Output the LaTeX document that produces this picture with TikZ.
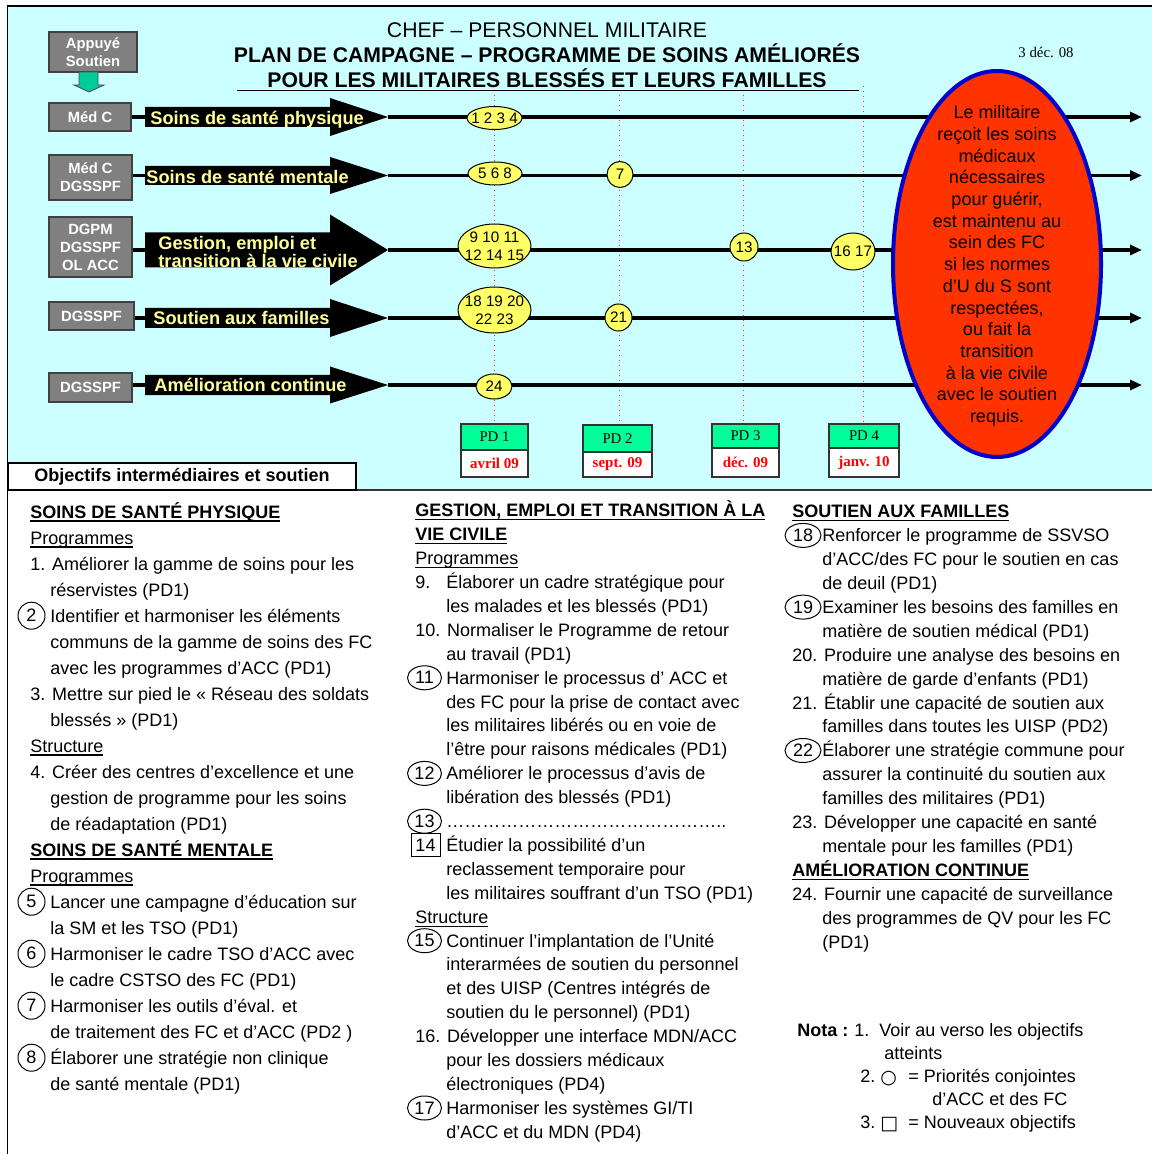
\documentclass[tikz,border=0pt]{standalone}
\usepackage{fontspec}
\setmainfont{Liberation Sans}
\newfontfamily\tms{Liberation Serif}
\newfontfamily\djv{DejaVu Sans}
\usetikzlibrary{shapes.geometric,arrows.meta}
\definecolor{bgcyan}{HTML}{CCFFFF}
\definecolor{boxgray}{HTML}{808080}
\definecolor{arrgreen}{HTML}{00CC99}
\definecolor{ellyel}{HTML}{FFFF66}
\definecolor{pdgreen}{HTML}{00FF99}
\definecolor{redfill}{HTML}{FF3300}
\definecolor{bluebd}{HTML}{0000CC}
\definecolor{labyel}{HTML}{FFFF99}
\definecolor{dotred}{HTML}{FF3300}
\newcommand\myul[1]{\setbox0\hbox{#1}\rlap{\vrule height -1.2pt depth 1.8pt width \wd0}\box0}
\newcommand\fs[2]{\fontsize{#1}{#2}\selectfont}
\begin{document}
\begin{tikzpicture}[x=0.5pt,y=-0.5pt,
  role/.style={draw=black!75, line width=0.6pt, fill=boxgray, text=white, font=\bfseries\fs{7.4pt}{9pt}, align=center, inner sep=0pt},
  conn/.style={line width=1.6pt},
  tl/.style={line width=1.6pt, -{Triangle[length=6pt,width=5pt]}},
  yel/.style={ellipse, draw, line width=0.5pt, fill=ellyel, inner sep=-2pt, font=\fs{7.6pt}{9pt}, align=center},
  pdtop/.style={draw=black!80, line width=0.6pt, fill=pdgreen, inner sep=0pt, font=\tms\fs{7.4pt}{9pt}},
  pdbot/.style={draw=black!80, line width=0.6pt, fill=white, inner sep=0pt, text=red, font=\tms\bfseries\fs{7.5pt}{9pt}},
  vdot/.style={draw=dotred, line width=0.5pt, dotted},
  lab/.style={text=labyel, font=\bfseries\fs{9.1pt}{9pt}, anchor=base west, inner sep=0pt},
  txt/.style={anchor=base west, inner sep=0pt, font=\fs{9pt}{11pt}},
  hdr/.style={anchor=base, inner sep=0pt},
  numc/.style={ellipse, draw, line width=0.5pt, inner sep=-2pt, font=\fs{9pt}{11pt}},
]
\useasboundingbox (0,0) rectangle (1152,1154);
\fill[white] (0,0) rectangle (1152,1154);
\fill[bgcyan] (7.5,6) rectangle (1152,490);
\draw[line width=0.6pt] (1152,6) -- (7.5,6) -- (7.5,1154);
\draw[line width=0.8pt, black!80] (7.5,490) -- (1152,490);

% PD boxes
\node[pdtop, minimum width=33.5pt, minimum height=13pt] (p1t) at (494.5,437) {PD 1};
\node[pdbot, minimum width=33.5pt, minimum height=13.5pt] (p1b) at (494.5,463.5) {avril 09};
\node[pdtop, minimum width=34.5pt, minimum height=13.5pt] (p2t) at (617.5,438.5) {PD 2};
\node[pdbot, minimum width=34.5pt, minimum height=12.5pt] (p2b) at (617.5,464.5) {sept. 09};
\node[pdtop, minimum width=33.5pt, minimum height=12pt] (p3t) at (745.5,436) {PD 3};
\node[pdbot, minimum width=33.5pt, minimum height=14.5pt] (p3b) at (745.5,462.5) {déc. 09};
\node[pdtop, minimum width=35pt, minimum height=12pt] (p4t) at (864,436) {PD 4};
\node[pdbot, minimum width=35pt, minimum height=14.5pt] (p4b) at (864,462.5) {janv. 10};

% dotted milestone lines
\coordinate (v1) at (494.5,95);
\coordinate (v2) at (619,95);
\coordinate (v3) at (743.5,95);
\coordinate (v4) at (863,86);
\draw[vdot] (v1) -- (v1 |- p1t.north);
\draw[vdot] (v2) -- (v2 |- p2t.north);
\draw[vdot] (v3) -- (v3 |- p3t.north);
\draw[vdot] (v4) -- (v4 |- p4t.north);

% arrow coordinates and timelines
\foreach \r/\yc in {1/117, 2/175.5, 3/250, 4/318, 5/385}{
  \coordinate (a\r) at (145,\yc);
  \coordinate (t\r) at (388,\yc);
  \coordinate (e\r) at (1142,\yc);
}
\foreach \r in {1,...,5}{ \draw[tl] (t\r) -- (e\r); }

% goal ellipse
\node[ellipse, draw=bluebd, line width=2pt, fill=redfill, minimum width=104pt, minimum height=193pt, inner sep=0pt] (goal) at (997,264) {};
\node[align=center, font=\fs{9pt}{10.85pt}, inner sep=0pt] (goaltxt) at (997,266) {Le militaire\\reçoit les soins\\médicaux\\nécessaires\\pour guérir,\\est maintenu au\\sein des FC\\si les normes\\d’U du S sont\\respectées,\\ou fait la\\transition\\à la vie civile\\avec le soutien\\requis.};

% yellow milestone ellipses
\node[yel, minimum width=27.5pt, minimum height=11.5pt] (m1) at (494.5,118) {1 2 3 4};
\node[yel, minimum width=27pt, minimum height=11.5pt] (m2) at (495,173.5) {5 6 8};
\node[yel, minimum width=13pt, minimum height=13pt] (m3) at (620,174.5) {7};
\node[yel, minimum width=36.5pt, minimum height=22pt] (m4) at (494.5,246) {9 10 11\\12 14 15};
\node[yel, minimum width=14pt, minimum height=14pt] (m5) at (744,247) {13};
\node[yel, minimum width=22pt, minimum height=18.5pt] (m6) at (853,251.5) {16 17};
\node[yel, minimum width=36.5pt, minimum height=23pt] (m7) at (494.5,310) {18 19 20\\22 23};
\node[yel, minimum width=13.5pt, minimum height=13.5pt] (m8) at (618.5,317.5) {21};
\node[yel, minimum width=18pt, minimum height=12.5pt] (m9) at (494,386.5) {24};

% arrow shapes
\foreach \r/\yc/\hb/\hh in {1/117/10/19, 2/175.5/9.5/18.5, 3/250/17.5/35.5, 4/318/10/19, 5/385/10/18.5}{
  \fill (145,{\yc-\hb}) -- (330,{\yc-\hb}) -- (330,{\yc-\hh}) -- (388,\yc) -- (330,{\yc+\hh}) -- (330,{\yc+\hb}) -- (145,{\yc+\hb}) -- cycle;
}
\node[lab] (l1) at (150,124.5) {Soins de santé physique};
\node[lab] (l2) at (146,183.5) {Soins de santé mentale};
\node[lab] (l3a) at (158,249.5) {Gestion, emploi et};
\node[lab] (l3b) at (158,267.5) {transition à la vie civile};
\node[lab] (l4) at (153,324.5) {Soutien aux familles};
\node[lab] (l5) at (154,392) {Amélioration continue};

% role boxes
\node[role, minimum width=44pt, minimum height=20pt] (r0) at (93,52) {Appuyé\\Soutien};
\node[role, minimum width=41pt, minimum height=14pt] (r1) at (90,117) {Méd C};
\node[role, minimum width=41.5pt, minimum height=22.5pt] (r2) at (90.5,177.5) {Méd C\\DGSSPF};
\node[role, minimum width=41.5pt, minimum height=30pt] (r3) at (90.5,247) {DGPM\\DGSSPF\\OL ACC};
\node[role, minimum width=42.5pt, minimum height=14pt] (r4) at (91.5,316) {DGSSPF};
\node[role, minimum width=41.5pt, minimum height=14.5pt] (r5) at (90.5,387.5) {DGSSPF};
\foreach \r in {1,...,5}{ \draw[conn] (r\r.east |- a\r) -- (a\r); }
\fill[arrgreen, draw=black!70, line width=0.4pt] (79,72) -- (98,72) -- (98,85) -- (104,85) -- (89,92) -- (74,85) -- (79,85) -- cycle;

% header
\node[hdr, font=\fs{10.6pt}{12pt}] (h1) at (547,37.6) {CHEF – PERSONNEL MILITAIRE};
\node[hdr, font=\bfseries\fs{10.6pt}{12pt}] (h2) at (547,62.6) {PLAN DE CAMPAGNE – PROGRAMME DE SOINS AMÉLIORÉS};
\node[hdr, font=\bfseries\fs{10.6pt}{12pt}] (h3) at (547,87.3) {POUR LES MILITAIRES BLESSÉS ET LEURS FAMILLES};
\draw[line width=0.5pt] (237,90.5) -- (859,90.5);
\node[font=\tms\fs{7.4pt}{9pt}, inner sep=0pt] (date) at (1046,52) {3 déc. 08};

% objectifs box
\node[draw, line width=0.6pt, fill=white, minimum width=174pt, minimum height=13.5pt, font=\bfseries\fs{9pt}{11pt}, inner sep=0pt] (obj) at (182,476.5) {Objectifs intermédiaires et soutien};

% column 1
\foreach \xx/\tx [count=\i from 0] in {
 30/{\bfseries\myul{SOINS DE SANTÉ PHYSIQUE}},
 30/{\myul{Programmes}},
 30/{1. Améliorer la gamme de soins pour les},
 50/{réservistes (PD1)},
 50/{Identifier et harmoniser les éléments},
 50/{communs de la gamme de soins des FC},
 50/{avec les programmes d’ACC (PD1)},
 30/{3. Mettre sur pied le « Réseau des soldats},
 50/{blessés » (PD1)},
 30/{\myul{Structure}},
 30/{4. Créer des centres d’excellence et une},
 50/{gestion de programme pour les soins},
 50/{de réadaptation (PD1)},
 30/{\bfseries\myul{SOINS DE SANTÉ MENTALE}},
 30/{\myul{Programmes}},
 50/{Lancer une campagne d’éducation sur},
 50/{la SM et les TSO (PD1)},
 50/{Harmoniser le cadre TSO d’ACC avec},
 50/{le cadre CSTSO des FC (PD1)},
 50/{Harmoniser les outils d’éval. et},
 50/{de traitement des FC et d’ACC (PD2 )},
 50/{Élaborer une stratégie non clinique},
 50/{de santé mentale (PD1)}}{
  \node[txt] (ca\i) at (\xx,{518+26*\i}) {\tx};
}
\foreach \k/\i in {2/4, 5/15, 6/17, 7/19, 8/21}{
  \node[numc, minimum width=13.5pt, minimum height=13.5pt] (ka\k) at (31.5,{511.7+26*\i}) {\k};
}

% column 2
\foreach \xx/\tx [count=\i from 0] in {
 415/{\bfseries\myul{GESTION, EMPLOI ET TRANSITION À LA}},
 415/{\bfseries\myul{VIE CIVILE}},
 415/{\myul{Programmes}},
 446/{Élaborer un cadre stratégique pour},
 446/{les malades et les blessés (PD1)},
 415/{10. Normaliser le Programme de retour},
 446/{au travail (PD1)},
 446/{Harmoniser le processus d’ ACC et},
 446/{des FC pour la prise de contact avec},
 446/{les militaires libérés ou en voie de},
 446/{l’être pour raisons médicales (PD1)},
 446/{Améliorer le processus d’avis de},
 446/{libération des blessés (PD1)},
 446/{………………………………………..},
 446/{Étudier la possibilité d’un},
 446/{reclassement temporaire pour},
 446/{les militaires souffrant d’un TSO (PD1)},
 415/{\myul{Structure}},
 446/{Continuer l’implantation de l’Unité},
 446/{interarmées de soutien du personnel},
 446/{et des UISP (Centres intégrés de},
 446/{soutien du le personnel) (PD1)},
 415/{16. Développer une interface MDN/ACC},
 446/{pour les dossiers médicaux},
 446/{électroniques (PD4)},
 446/{Harmoniser les systèmes GI/TI},
 446/{d’ACC et du MDN (PD4)}}{
  \node[txt] (cb\i) at (\xx,{516.8+23.9*\i}) {\tx};
}
\node[txt] (cb9n) at (415,{516.8+23.9*3}) {9.};
\foreach \k/\i in {11/7, 12/11, 13/13, 15/18, 17/25}{
  \node[numc, minimum width=17pt, minimum height=12pt] (kb\k) at (424.5,{510.5+23.9*\i}) {\k};
}
\node[draw, line width=0.5pt, minimum width=14.5pt, minimum height=11.5pt, inner sep=0pt, font=\fs{9pt}{11pt}] (kb14) at (425.5,{510.5+23.9*14}) {14};

% column 3
\foreach \xx/\tx [count=\i from 0] in {
 792/{\bfseries\myul{SOUTIEN AUX FAMILLES}},
 822/{Renforcer le programme de SSVSO},
 822/{d’ACC/des FC pour le soutien en cas},
 822/{de deuil (PD1)},
 822/{Examiner les besoins des familles en},
 822/{matière de soutien médical (PD1)},
 792/{20. Produire une analyse des besoins en},
 822/{matière de garde d’enfants (PD1)},
 792/{21. Établir une capacité de soutien aux},
 822/{familles dans toutes les UISP (PD2)},
 822/{Élaborer une stratégie commune pour},
 822/{assurer la continuité du soutien aux},
 822/{familles des militaires (PD1)},
 792/{23. Développer une capacité en santé},
 822/{mentale pour les familles (PD1)},
 792/{\bfseries\myul{AMÉLIORATION CONTINUE}},
 792/{24. Fournir une capacité de surveillance},
 822/{des programmes de QV pour les FC},
 822/{(PD1)}}{
  \node[txt] (cc\i) at (\xx,{517.8+23.9*\i}) {\tx};
}
\foreach \k/\i in {18/1, 19/4, 22/10}{
  \node[numc, minimum width=18pt, minimum height=12pt] (kc\k) at (803,{511.5+23.9*\i}) {\k};
}

% nota
\node[txt, font=\bfseries\fs{9pt}{11pt}] (nota) at (797,1036) {Nota :};
\node[txt] (n1) at (854,1036) {1.\ \ Voir au verso les objectifs};
\node[txt] (n1b) at (884,1059) {atteints};
\node[txt] (n2) at (860,1082) {2.};
\node[txt, font=\djv\fs{9.5pt}{11pt}] (n2s) at (880,1083) {○};
\node[txt] (n2t) at (908,1082) {= Priorités conjointes};
\node[txt] (n2b) at (932,1105) {d’ACC et des FC};
\node[txt] (n3) at (860,1128) {3.};
\node[txt, font=\djv\fs{9.5pt}{11pt}] (n3s) at (880,1129) {□};
\node[txt] (n3t) at (908,1128) {= Nouveaux objectifs};
\end{tikzpicture}
\end{document}
